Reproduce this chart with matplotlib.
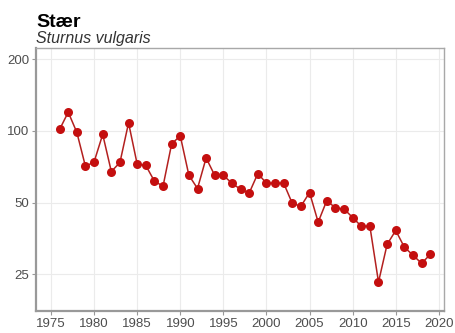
import matplotlib
matplotlib.use("Agg")
import matplotlib.pyplot as plt
from matplotlib.ticker import FixedLocator, NullLocator

plt.rcParams['font.family'] = ['Liberation Sans', 'DejaVu Sans']

title = "Stær"
subtitle = "Sturnus vulgaris"

years = list(range(1976, 2020))
index_values = [101.4, 119.8, 98.5, 70.9, 74.1, 96.6, 67.5, 73.7, 108.0, 72.5,
                71.6, 61.5, 58.6, 88.2, 95.3, 65.1, 57.3, 77.0, 65.0, 65.0,
                60.3, 56.8, 54.9, 66.2, 60.3, 60.3, 60.3, 49.6, 48.3, 55.1,
                41.4, 51.0, 47.5, 47.0, 43.3, 39.8, 39.8, 23.2, 33.4, 38.2,
                32.5, 30.1, 27.8, 30.3]

y_ticks = [25, 50, 100, 200]
y_tick_labels = ["25", "50", "100", "200"]
x_ticks = list(range(1975, 2021, 5))

fig = plt.figure(figsize=(4.55, 3.33), dpi=100)
ax = fig.add_axes([36/455, 1 - 310.7/333, (444 - 36)/455, (310.7 - 48.3)/333])

ax.plot(years, index_values, color='#b3201f', linewidth=1.1, zorder=3)
ax.plot(years, index_values, linestyle='none', marker='o', markersize=6.5,
        color='#c40f0f', markeredgewidth=0, zorder=4)

ax.set_yscale('log')
ax.set_ylim(17.6, 222)
ax.set_xlim(1973.26, 2020.6)
ax.yaxis.set_major_locator(FixedLocator(y_ticks))
ax.set_yticklabels(y_tick_labels)
ax.yaxis.set_minor_locator(NullLocator())
ax.set_xticks(x_ticks)
ax.set_xticklabels([str(x) for x in x_ticks])

ax.grid(True, which='major', color='#ebebeb', linewidth=0.8)
ax.set_axisbelow(True)
for side in ['left', 'bottom', 'top', 'right']:
    ax.spines[side].set_color('#a8a8a8')
    ax.spines[side].set_linewidth(1.0)
ax.spines['left'].set_linewidth(1.6)
ax.spines['bottom'].set_linewidth(1.6)
ax.spines['left'].set_color('#999999')
ax.spines['bottom'].set_color('#999999')
ax.tick_params(axis='both', colors='#999999', labelcolor='#4d4d4d',
               labelsize=9.5, length=3, width=0.8, pad=2)

fig.text(36/455, 1 - 26.7/333, title, fontsize=14, fontweight='bold',
         color='black', ha='left', va='baseline')
fig.text(36/455, 1 - 42.5/333, subtitle, fontsize=11.5, style='italic',
         color='#333333', ha='left', va='baseline')

fig.savefig('out.png', dpi=100)
